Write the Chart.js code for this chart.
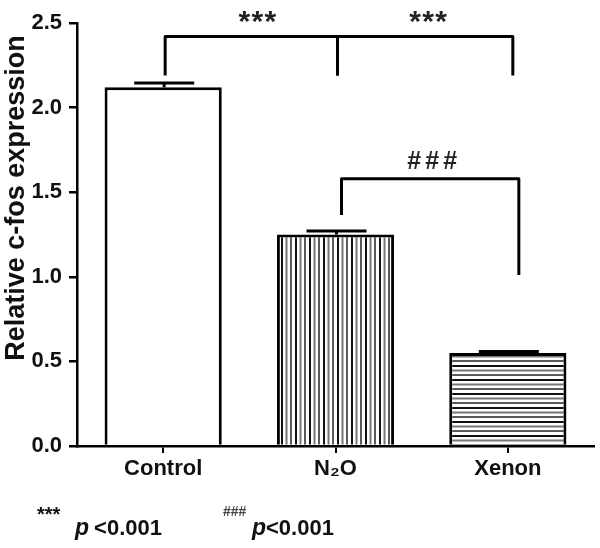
<!DOCTYPE html>
<html>
<head>
<meta charset="utf-8">
<script src="https://cdn.jsdelivr.net/npm/chart.js@4"></script>
<style>
html,body{margin:0;padding:0;background:#fff;}
#wrap{position:relative;width:600px;height:548px;}
canvas{display:block;}
</style>
</head>
<body>
<div id="wrap"><canvas id="c" width="600" height="548"></canvas></div>
<script>
// ---- data ----
const categories = ["Control", "N\u2082O", "Xenon"];
const meanValues = [2.12, 1.25, 0.55];
const semValues = [0.025, 0.02, 0.008];
const yTicks = [0.0, 0.5, 1.0, 1.5, 2.0, 2.5];
// significance brackets
const bracketFrom = [0, 1, 1];
const bracketTo = [1, 2, 2];
const bracketY = [2.42, 2.42, 1.58];
const bracketLeftEnd = [2.19, 2.19, 1.365];
const bracketRightEnd = [2.19, 2.19, 1.01];
const bracketLabels = ["***", "***", "###"];

const FONT = "'Liberation Sans', Arial, sans-serif";

function makePattern(vertical) {
  const t = document.createElement('canvas');
  t.width = 14; t.height = 14;
  const g = t.getContext('2d');
  g.fillStyle = '#fff'; g.fillRect(0, 0, 14, 14);
  const cols = ['#111', '#777', '#5a5a5a'];
  const pos = [0, 4.5, 9];
  for (let i = 0; i < 3; i++) {
    g.fillStyle = cols[i];
    if (vertical) g.fillRect(pos[i] + 1, 0, 2, 14);
    else g.fillRect(0, pos[i] + 1, 14, 2);
  }
  return document.getElementById('c').getContext('2d').createPattern(t, 'repeat');
}

const fills = ['#ffffff', makePattern(true), makePattern(false)];

const overlay = {
  id: 'overlay',
  afterDatasetsDraw(chart) {
    const ctx = chart.ctx;
    const x = chart.scales.x, y = chart.scales.y;
    ctx.save();
    ctx.strokeStyle = '#000';
    ctx.lineWidth = 3;
    ctx.lineCap = 'butt';
    // error bars (upper)
    meanValues.forEach((v, i) => {
      const cx = x.getPixelForValue(i) + 1;
      const yTop = y.getPixelForValue(v + semValues[i]);
      const yv = y.getPixelForValue(v);
      ctx.beginPath();
      ctx.moveTo(cx, yv); ctx.lineTo(cx, yTop);
      ctx.moveTo(cx - 30, yTop); ctx.lineTo(cx + 30, yTop);
      ctx.stroke();
    });
    // brackets
    ctx.lineJoin = 'round';
    const leftOff = [2, 2, 6];
    const rightOff = [2, 5, 11];
    const labOff = [6, 3, 2];
    bracketY.forEach((by, k) => {
      const x1 = x.getPixelForValue(bracketFrom[k]) + leftOff[k];
      const x2 = x.getPixelForValue(bracketTo[k]) + rightOff[k];
      const py = y.getPixelForValue(by);
      ctx.beginPath();
      ctx.moveTo(x1, y.getPixelForValue(bracketLeftEnd[k]));
      ctx.lineTo(x1, py);
      ctx.lineTo(x2, py);
      ctx.lineTo(x2, y.getPixelForValue(bracketRightEnd[k]));
      ctx.stroke();
      const mid = (x1 + x2) / 2 + labOff[k];
      ctx.fillStyle = '#222';
      ctx.textAlign = 'center';
      ctx.textBaseline = 'alphabetic';
      const lab = bracketLabels[k];
      if (lab[0] === '*') {
        ctx.font = "bold 30px " + FONT;
        for (let j = 0; j < 3; j++) ctx.fillText('*', mid + (j - 1) * 13, py - 6);
      } else {
        ctx.font = "bold 25px " + FONT;
        for (let j = 0; j < 3; j++) ctx.fillText('#', mid + (j - 1) * 18, py - 10);
      }
    });
    // y title
    ctx.save();
    ctx.translate(24, 198);
    ctx.rotate(-Math.PI / 2);
    ctx.font = "bold 27px " + FONT;
    ctx.fillStyle = '#111';
    ctx.textAlign = 'center';
    ctx.textBaseline = 'alphabetic';
    ctx.fillText('Relative c-fos expression', 0, 0);
    ctx.restore();
    // footnote
    ctx.fillStyle = '#111';
    ctx.textAlign = 'left';
    ctx.textBaseline = 'alphabetic';
    ctx.font = "bold 20px " + FONT;
    ctx.fillText('***', 37, 521);
    ctx.font = "bold 14px " + FONT;
    ctx.fillStyle = '#444';
    ctx.fillText('###', 223, 516);
    ctx.fillStyle = '#111';
    ctx.font = "italic bold 23px " + FONT;
    ctx.fillText('p', 75, 535);
    ctx.fillText('p', 252, 535);
    ctx.font = "bold 22px " + FONT;
    ctx.fillText(' <0.001', 88, 535);
    ctx.fillText('<0.001', 266, 535);
    ctx.restore();
  }
};

new Chart(document.getElementById('c'), {
  type: 'bar',
  data: {
    labels: categories,
    datasets: [{
      data: meanValues,
      backgroundColor: fills,
      borderColor: '#000',
      borderWidth: 3,
      borderSkipped: 'bottom',
      categoryPercentage: 1.0,
      barPercentage: 0.68
    }]
  },
  options: {
    responsive: false,
    animation: false,
    devicePixelRatio: 1,
    layout: { padding: { top: 23, right: 6, left: 0, bottom: 0 } },
    plugins: { legend: { display: false }, tooltip: { enabled: false } },
    scales: {
      x: {
        offset: true,
        grid: { display: true, drawOnChartArea: false, offset: false, tickLength: 7, color: '#000', lineWidth: 2 },
        border: { display: true, color: '#000', width: 2.5 },
        ticks: { color: '#111', font: { family: FONT, size: 22, weight: 'bold' }, padding: 3 },
        afterFit(s) { s.height = 102; }
      },
      y: {
        min: 0, max: 2.5,
        afterBuildTicks(s) { s.ticks = yTicks.map(v => ({ value: v })); },
        grid: { display: true, drawOnChartArea: false, tickLength: 8, color: '#000', lineWidth: 2.5 },
        border: { display: true, color: '#000', width: 2.5 },
        ticks: { color: '#111', font: { family: FONT, size: 22, weight: 'bold' }, padding: 7,
          callback: v => Number(v).toFixed(1) },
        afterFit(s) { s.width = 77; }
      }
    }
  },
  plugins: [overlay]
});
</script>
</body>
</html>
